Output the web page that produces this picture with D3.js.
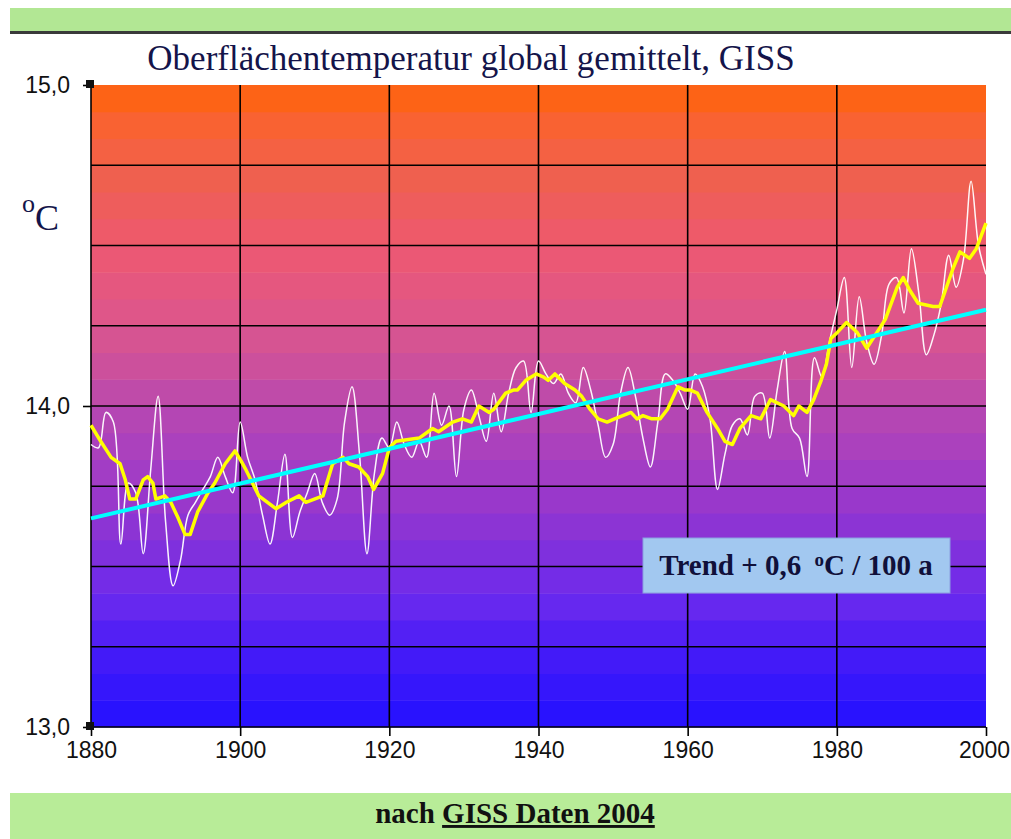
<!DOCTYPE html>
<html>
<head>
<meta charset="utf-8">
<script src="https://cdn.jsdelivr.net/npm/d3@7"></script>
<style>
  body { margin: 0; background: #fff; }
  svg { display: block; }
</style>
</head>
<body>
<script>
// annual global mean (deg C), 1880..2000
var firstYear = 1880;
var annual = [
  13.88, 13.87, 13.98, 13.95, 13.57, 13.76, 13.73, 13.54, 13.80, 14.03,
  13.64, 13.44, 13.52, 13.66, 13.70, 13.74, 13.78, 13.84, 13.78, 13.73,
  13.95, 13.84, 13.77, 13.66, 13.57, 13.70, 13.85, 13.59, 13.67, 13.73,
  13.79, 13.70, 13.66, 13.71, 13.95, 14.06, 13.85, 13.54, 13.79, 13.90,
  13.87, 13.95, 13.88, 13.84, 13.89, 13.84, 14.04, 13.94, 14.00, 13.78,
  13.99, 14.05, 13.97, 13.89, 14.04, 13.92, 14.04, 14.12, 14.14, 13.98,
  14.14, 14.10, 14.07, 14.10, 14.04, 14.01, 14.12, 14.05, 13.94, 13.84,
  13.88, 14.04, 14.12, 14.03, 13.90, 13.81, 13.95, 14.10, 14.08, 14.04,
  13.99, 14.10, 14.06, 13.96, 13.74, 13.85, 13.94, 13.96, 13.91, 14.03,
  14.04, 13.90, 14.05, 14.17, 13.93, 13.90, 13.78, 14.15, 14.09, 14.20,
  14.30, 14.40, 14.12, 14.34, 14.20, 14.13, 14.22, 14.38, 14.40, 14.29,
  14.49, 14.35, 14.16, 14.22, 14.32, 14.47, 14.37, 14.46, 14.70, 14.50,
  14.41
];

// running mean (yellow)
var smoothYears = [
  1880, 1881.3, 1882.7, 1883.9, 1884.6, 1885.2, 1886.0, 1887.0, 1887.6, 1888.3,
  1888.7, 1889.9, 1890.7, 1891.7, 1892.6, 1893.3, 1894.3, 1895.7, 1896.6, 1898.0,
  1899.3, 1900.1, 1900.8, 1902.5, 1904.8, 1906.2, 1907.9, 1908.8, 1911.1, 1912.4,
  1913.8, 1914.6, 1915.9, 1917.1, 1917.9, 1919.1, 1920.0, 1920.9, 1924.0, 1925.8,
  1926.6, 1928.5, 1929.8, 1931.0, 1932.0, 1933.4, 1934.0, 1935.6, 1936.7, 1937.2,
  1938.3, 1939.7, 1940.7, 1941.3, 1942.2, 1943.5, 1944.9, 1945.8, 1946.9, 1948.0,
  1949.2, 1950.2, 1951.3, 1952.4, 1953.2, 1954.0, 1955.2, 1956.3, 1957.3, 1958.7,
  1959.6, 1960.3, 1961.3, 1962.6, 1964.0, 1965.0, 1966.0, 1967.0, 1968.5, 1969.8,
  1971.1, 1972.9, 1974.2, 1974.9, 1976.0, 1976.9, 1977.9, 1978.6, 1979.2, 1980.1,
  1981.3, 1982.7, 1984.0, 1985.4, 1986.5, 1988.1, 1988.9, 1989.8, 1990.9, 1992.9,
  1993.8, 1994.7, 1995.6, 1996.5, 1997.8, 1998.7, 2000
];
var smoothVals = [
  13.94, 13.89, 13.84, 13.82, 13.77, 13.71, 13.71, 13.77, 13.78, 13.76,
  13.71, 13.72, 13.70, 13.65, 13.60, 13.60, 13.67, 13.73, 13.76, 13.82,
  13.86, 13.83, 13.80, 13.72, 13.68, 13.70, 13.72, 13.70, 13.72, 13.82,
  13.84, 13.82, 13.81, 13.78, 13.74, 13.79, 13.87, 13.89, 13.90, 13.93,
  13.92, 13.95, 13.96, 13.95, 14.00, 13.98, 13.99, 14.04, 14.05, 14.05,
  14.08, 14.10, 14.09, 14.08, 14.10, 14.07, 14.05, 14.03, 13.99, 13.96,
  13.95, 13.96, 13.97, 13.98, 13.96, 13.97, 13.96, 13.96, 13.99, 14.06,
  14.05, 14.05, 14.04, 13.98, 13.93, 13.89, 13.88, 13.93, 13.97, 13.96,
  14.02, 14.00, 13.97, 14.00, 13.98, 14.02, 14.08, 14.13, 14.21, 14.23,
  14.26, 14.23, 14.18, 14.23, 14.27, 14.37, 14.40, 14.36, 14.32, 14.31,
  14.31, 14.37, 14.43, 14.48, 14.46, 14.49, 14.57
];

var trendYears = [1880, 2000];
var trendVals = [13.65, 14.30];

var xTickYears = [1880, 1900, 1920, 1940, 1960, 1980, 2000];
var yLabelVals = [13, 14, 15];
var yLabelText = ["13,0", "14,0", "15,0"];
var gridVals = [13.25, 13.5, 13.75, 14, 14.25, 14.5, 14.75];

var W = 1011, H = 839;
var svg = d3.select("body").append("svg").attr("width", W).attr("height", H);

var x = d3.scaleLinear().domain([1880, 2000]).range([91, 986]);
var y = d3.scaleLinear().domain([13, 15]).range([727, 85]);

// green strips top and bottom
svg.append("rect").attr("x", 10).attr("y", 8).attr("width", W - 10).attr("height", 23).attr("fill", "#b2e794");
svg.append("rect").attr("x", 10).attr("y", 31).attr("width", W - 10).attr("height", 3).attr("fill", "#3a3a3a");
svg.append("rect").attr("x", 10).attr("y", 793).attr("width", W - 10).attr("height", H - 793).attr("fill", "#b8ec98");

// stepped colour bands behind the plot
var bandColor = d3.scaleLinear()
  .domain([13.0, 13.25, 13.4, 13.55, 13.7, 13.85, 14.0, 14.15, 14.3, 14.5, 14.7, 14.85, 15.0])
  .range(["#2210ff", "#4a1cf6", "#6c2aee", "#8030dc", "#9838cc", "#a840c0", "#b848b0",
          "#d05298", "#e05688", "#ee5870", "#ee6050", "#f8623a", "#ff6408"]);
var nb = 24, step = 2 / nb;
var bands = d3.range(nb).map(function(i) { return 13 + i * step; });
svg.append("g").selectAll("rect")
    .data(bands)
  .enter().append("rect")
    .attr("x", x(1880))
    .attr("width", x(2000) - x(1880))
    .attr("y", function(d) { return y(d + step); })
    .attr("height", function(d) { return y(d) - y(d + step) + 0.5; })
    .attr("fill", function(d) { return bandColor(d + step / 2); });

// grid
var grid = svg.append("g").attr("stroke", "#000").attr("stroke-width", 1.6);
grid.selectAll(".h").data(gridVals).enter().append("line")
    .attr("x1", x(1880)).attr("x2", x(2000))
    .attr("y1", function(d) { return y(d); }).attr("y2", function(d) { return y(d); });
grid.selectAll(".v").data(xTickYears.slice(1, -1)).enter().append("line")
    .attr("x1", function(d) { return x(d); }).attr("x2", function(d) { return x(d); })
    .attr("y1", y(15)).attr("y2", y(13));

// axes
var xAxis = svg.append("g")
    .attr("transform", "translate(0," + y(13) + ")")
    .call(d3.axisBottom(x).tickValues(xTickYears).tickFormat(d3.format("d")).tickSize(9).tickPadding(6));
var yAxis = svg.append("g")
    .attr("transform", "translate(" + x(1880) + ",0)")
    .call(d3.axisLeft(y).tickValues(yLabelVals).tickFormat(function(d, i) { return yLabelText[i]; }).tickSize(8).tickPadding(13));
[xAxis, yAxis].forEach(function(a) {
  a.select(".domain").attr("stroke", "#000").attr("stroke-width", 1.6);
  a.selectAll(".tick line").attr("stroke", "#000").attr("stroke-width", 1.6);
  a.selectAll("text").attr("fill", "#111").style("font-family", "'Liberation Sans', Arial, sans-serif").style("font-size", "23px");
});
xAxis.select(".domain").attr("d", "M" + x(1880) + ",0H" + x(2000));
yAxis.select(".domain").attr("d", "M0," + y(13) + "V" + y(15));
xAxis.selectAll(".tick text").filter(function(d) { return d === 2000; }).attr("dx", -2);

// end markers of the value axis
svg.append("g").selectAll("rect").data([15, 13]).enter().append("rect")
    .attr("x", x(1880) - 5).attr("y", function(d) { return y(d) - 5; })
    .attr("width", 8).attr("height", 8).attr("fill", "#111");

// series
var lineAnnual = d3.line()
    .x(function(d, i) { return x(firstYear + i); })
    .y(function(d) { return y(d); })
    .curve(d3.curveCatmullRom.alpha(0.5));
svg.append("path").datum(annual)
    .attr("d", lineAnnual)
    .attr("fill", "none").attr("stroke", "#ffffff").attr("stroke-width", 1.5).attr("opacity", 0.95);

var lineSmooth = d3.line()
    .x(function(d) { return x(d[0]); })
    .y(function(d) { return y(d[1]); });
svg.append("path").datum(d3.zip(smoothYears, smoothVals))
    .attr("d", lineSmooth)
    .attr("fill", "none").attr("stroke", "#ffff00").attr("stroke-width", 3.5).attr("stroke-linejoin", "round");

svg.append("path").datum(d3.zip(trendYears, trendVals))
    .attr("d", lineSmooth)
    .attr("fill", "none").attr("stroke", "#00ffff").attr("stroke-width", 4);

// title
svg.append("text")
    .attr("x", 471).attr("y", 70)
    .attr("text-anchor", "middle")
    .attr("fill", "#14144a")
    .style("font-family", "'Liberation Serif', 'Times New Roman', serif")
    .style("font-size", "35px")
    .text("Oberflächentemperatur global gemittelt, GISS");

// unit
var unit = svg.append("text").attr("x", 22).attr("y", 230)
    .attr("fill", "#14144a")
    .style("font-family", "'Liberation Serif', 'Times New Roman', serif");
unit.append("tspan").attr("dy", -18).style("font-size", "26px").text("o");
unit.append("tspan").attr("dy", 18).style("font-size", "36px").text("C");

// trend box
svg.append("rect").attr("x", 643).attr("y", 538).attr("width", 307).attr("height", 55)
    .attr("fill", "#a2c8f0").attr("stroke", "#8a9ee0").attr("stroke-width", 1);
var tt = svg.append("text").attr("x", 796).attr("y", 575)
    .attr("text-anchor", "middle")
    .attr("fill", "#10103a")
    .style("font-family", "'Liberation Serif', 'Times New Roman', serif")
    .style("font-weight", "bold")
    .style("font-size", "29px");
tt.append("tspan").text("Trend + 0,6 ");
tt.append("tspan").attr("dx", 6).attr("dy", -9).style("font-size", "19px").text("o");
tt.append("tspan").attr("dy", 9).text("C / 100 a");

// source note
var src = svg.append("text").attr("x", 515).attr("y", 823)
    .attr("text-anchor", "middle")
    .attr("fill", "#111")
    .style("font-family", "'Liberation Serif', 'Times New Roman', serif")
    .style("font-weight", "bold")
    .style("font-size", "29px");
src.append("tspan").text("nach ");
src.append("tspan").style("text-decoration", "underline").text("GISS Daten 2004");
</script>
</body>
</html>
